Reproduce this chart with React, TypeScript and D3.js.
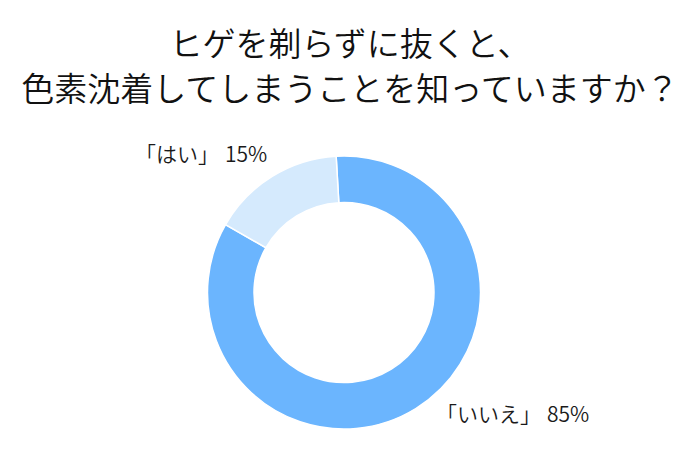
import React, { useEffect, useRef } from "react";
import * as d3 from "d3";

const titleLines = ["ヒゲを剃らずに抜くと、", "色素沈着してしまうことを知っていますか？"];
const categories = ["「いいえ」", "「はい」"];
const percentLabels = ["85%", "15%"];
// slice sizes
const shares = [84.2, 15.8];
const colors = ["#6bb5fe", "#d5eafd"];

const W = 700;
const H = 450;
const FONT = "'Noto Sans CJK JP', 'Noto Sans', sans-serif";

export default function App() {
  const ref = useRef<SVGSVGElement | null>(null);

  useEffect(() => {
    const svg = d3.select(ref.current);
    svg.selectAll("*").remove();

    svg.append("rect").attr("width", W).attr("height", H).attr("fill", "#ffffff");

    const title = svg
      .append("text")
      .attr("text-anchor", "middle")
      .attr("font-family", FONT)
      .attr("font-size", 33)
      .attr("font-weight", 350)
      .attr("fill", "#111111");
    titleLines.forEach((line, i) => {
      title.append("tspan").attr("x", 350).attr("y", 56 + i * 45).text(line);
    });

    const cx = 344;
    const cy = 292.5;
    const outerR = 136.5;
    const innerR = 90;
    const start = (-3.3 * Math.PI) / 180;

    const data = categories.map((c, i) => ({ cat: c, share: shares[i], color: colors[i], pct: percentLabels[i] }));

    const pie = d3
      .pie<any>()
      .sort(null)
      .value((d: any) => d.share)
      .startAngle(start)
      .endAngle(start + 2 * Math.PI);

    const arc = d3.arc<any>().innerRadius(innerR).outerRadius(outerR);

    const g = svg.append("g").attr("transform", `translate(${cx},${cy})`);
    g.selectAll("path")
      .data(pie(data))
      .enter()
      .append("path")
      .attr("d", arc as any)
      .attr("fill", (d: any) => d.data.color)
      .attr("stroke", "#ffffff")
      .attr("stroke-width", 1.5);

    const labelPos = [
      { x: 436, y: 422 },
      { x: 135, y: 162 },
    ];
    data.forEach((d, i) => {
      const t = svg
        .append("text")
        .attr("x", labelPos[i].x)
        .attr("y", labelPos[i].y)
        .attr("font-family", FONT)
        .attr("font-size", 21)
        .attr("font-weight", 350)
        .attr("fill", "#1a1a1a");
      t.append("tspan").text(d.cat);
      t.append("tspan").attr("dx", 6).text(d.pct);
    });
  }, []);

  return (
    <svg
      ref={ref}
      width={W}
      height={H}
      style={{ position: "absolute", left: 0, top: 0, display: "block" }}
    />
  );
}
